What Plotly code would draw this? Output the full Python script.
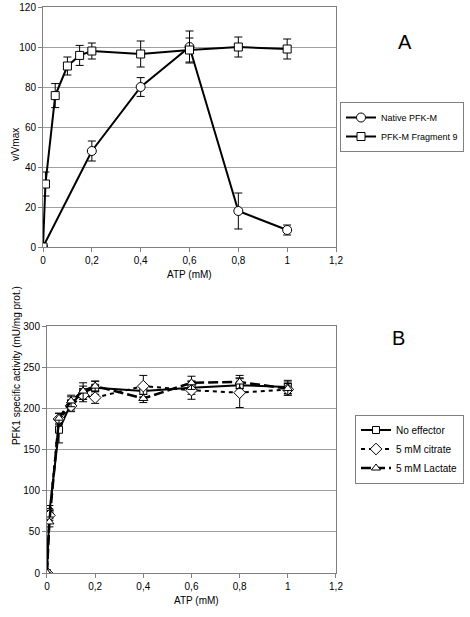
import plotly.graph_objects as go

# ---- Panel A data ----
native_x = [0, 0.2, 0.4, 0.6, 0.8, 1.0]
native_y = [0, 48, 80, 100, 18, 8.5]
native_err = [0, 5, 4.7, 8, 9, 2.5]

frag_x = [0, 0.01, 0.05, 0.1, 0.15, 0.2, 0.4, 0.6, 0.8, 1.0]
frag_y = [0, 31.5, 75.7, 90.5, 95.8, 98, 96.5, 98.5, 100, 99]
frag_err = [0, 6, 6, 4.5, 5, 4, 6.5, 6, 5, 5]

# ---- Panel B data ----
b_x = [0, 0.01, 0.05, 0.1, 0.15, 0.2, 0.4, 0.6, 0.8, 1.0]
noeff_y = [0, 74, 174, 206, 219, 225, 221, 225, 228, 226]
noeff_err = [0, 8, 16, 8, 8, 8, 8, 8, 8, 8]
citrate_y = [0, 70, 187, 203, 216, 213, 227, 222, 219, 223]
citrate_err = [0, 6, 7, 7, 8, 7, 13, 11, 18, 7]
lactate_y = [0, 62, 188, 209, 221, 227, 212, 231, 232, 224]
lactate_err = [0, 6, 6, 7, 10, 6, 5, 8, 8, 8]

x_ticks = [0, 0.2, 0.4, 0.6, 0.8, 1.0, 1.2]
x_ticktext = ["0", "0,2", "0,4", "0,6", "0,8", "1", "1,2"]

FONT = "Liberation Sans, Arial, sans-serif"
W, H = 470, 617
ML, MR, MT, MB = 43, 133, 7, 44
PW, PH = W - ML - MR, H - MT - MB


def px(x):
    return (x - ML) / PW


def py(y):
    return (H - MB - y) / PH


def eb(arr):
    return dict(type="data", array=arr, visible=True, color="black",
                thickness=1, width=4)


fig = go.Figure()

fig.add_trace(go.Scatter(
    x=native_x, y=native_y, error_y=eb(native_err), name="Native PFK-M",
    mode="lines+markers", line=dict(color="black", width=2),
    marker=dict(symbol="circle", size=9, color="white",
                line=dict(color="black", width=1)),
    xaxis="x", yaxis="y", legend="legend"))
fig.add_trace(go.Scatter(
    x=frag_x, y=frag_y, error_y=eb(frag_err), name="PFK-M Fragment 9",
    mode="lines+markers", line=dict(color="black", width=2),
    marker=dict(symbol="square", size=8, color="white",
                line=dict(color="black", width=1)),
    xaxis="x", yaxis="y", legend="legend"))

fig.add_trace(go.Scatter(
    x=b_x, y=noeff_y, error_y=eb(noeff_err), name="No effector",
    mode="lines+markers", line=dict(color="black", width=2),
    marker=dict(symbol="square", size=7, color="white",
                line=dict(color="black", width=1)),
    xaxis="x2", yaxis="y2", legend="legend2"))
fig.add_trace(go.Scatter(
    x=b_x, y=citrate_y, error_y=eb(citrate_err), name="5 mM citrate",
    mode="lines+markers", line=dict(color="black", width=2, dash="4px,4px"),
    marker=dict(symbol="diamond", size=9, color="white",
                line=dict(color="black", width=1)),
    xaxis="x2", yaxis="y2", legend="legend2"))
fig.add_trace(go.Scatter(
    x=b_x, y=lactate_y, error_y=eb(lactate_err), name="5 mM Lactate",
    mode="lines+markers",
    line=dict(color="black", width=2.5, dash="10px,4px"),
    marker=dict(symbol="triangle-up", size=8, color="white",
                line=dict(color="black", width=1)),
    xaxis="x2", yaxis="y2", legend="legend2"))

axis_common = dict(showline=True, linecolor="#808080", linewidth=1,
                   mirror=True, ticks="outside", ticklen=4,
                   tickcolor="#808080", tickfont=dict(size=10, color="black"),
                   zeroline=False, automargin=False)

fig.update_layout(
    width=W, height=H,
    margin=dict(l=ML, r=MR, t=MT, b=MB),
    paper_bgcolor="white", plot_bgcolor="white",
    font=dict(family=FONT, color="black", size=10),
    xaxis=dict(domain=[0, 1], anchor="y", range=[0, 1.2],
               tickvals=x_ticks, ticktext=x_ticktext, showgrid=False,
               **axis_common),
    yaxis=dict(domain=[py(247), 1], anchor="x", range=[0, 120], dtick=20,
               showgrid=True, gridcolor="#a0a0a0", gridwidth=1,
               **axis_common),
    xaxis2=dict(domain=[px(47), 1], anchor="y2", range=[0, 1.2],
                tickvals=x_ticks, ticktext=x_ticktext, showgrid=False,
                **axis_common),
    yaxis2=dict(domain=[0, py(326)], anchor="x2", range=[0, 300], dtick=50,
                showgrid=True, gridcolor="#a0a0a0", gridwidth=1,
                **axis_common),
    legend=dict(x=px(340), y=py(127), xanchor="left", yanchor="middle",
                bordercolor="#808080", borderwidth=1, bgcolor="white",
                font=dict(size=9), tracegroupgap=0, itemwidth=30),
    legend2=dict(x=px(355), y=py(449), xanchor="left", yanchor="middle",
                 bordercolor="#808080", borderwidth=1, bgcolor="white",
                 font=dict(size=10), tracegroupgap=0, itemwidth=30),
    annotations=[
        dict(text="A", x=px(415), y=py(29), xref="paper", yref="paper",
             showarrow=False, font=dict(size=20)),
        dict(text="B", x=px(408), y=py(338), xref="paper", yref="paper",
             showarrow=False, font=dict(size=20)),
        dict(text="ATP (mM)", x=px(190), y=py(274), xref="paper",
             yref="paper", showarrow=False, font=dict(size=10)),
        dict(text="ATP (mM)", x=px(197), y=py(608), xref="paper",
             yref="paper", showarrow=False, font=dict(size=10)),
        dict(text="v/Vmax", x=px(8), y=py(126), xref="paper",
             yref="paper", showarrow=False, textangle=-90,
             font=dict(size=10)),
        dict(text="PFK1 specific activity (mU/mg prot.)", x=px(9),
             y=py(447), xref="paper", yref="paper", showarrow=False,
             textangle=-90, font=dict(size=10)),
    ],
)

fig.write_html(
    "out.html",
    config={"displayModeBar": False},
    post_script="document.body.style.margin='0';"
                "document.body.style.overflow='hidden';")
